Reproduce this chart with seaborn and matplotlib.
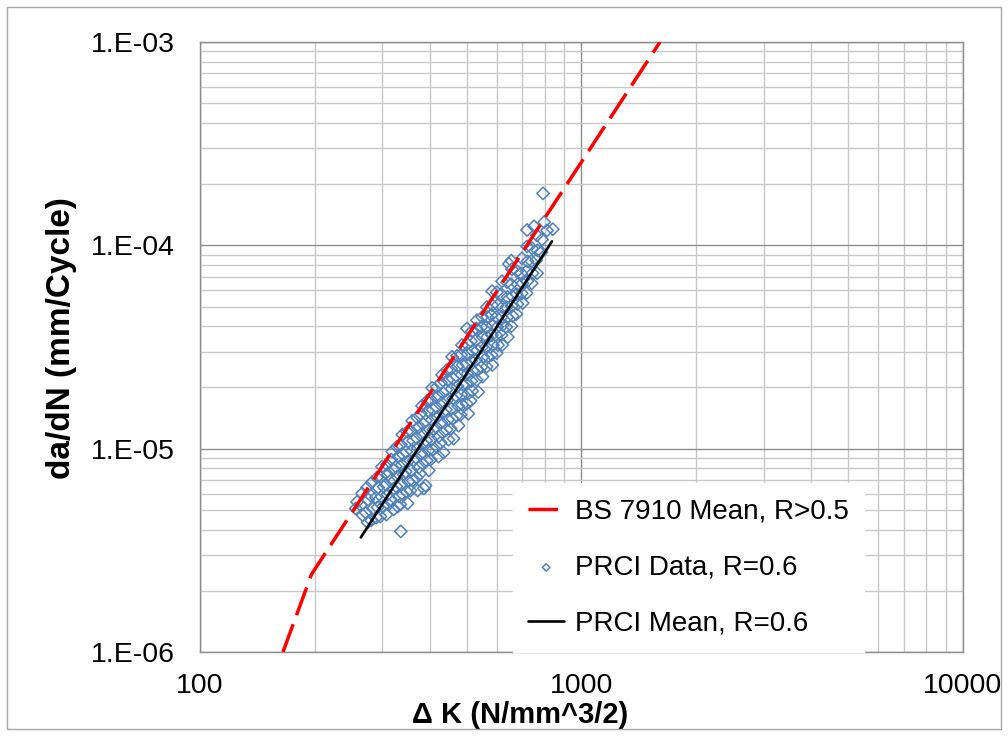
import matplotlib
matplotlib.use("Agg")
import matplotlib.pyplot as plt
import matplotlib.ticker as mticker
from matplotlib.patches import Rectangle
import numpy as np
import pandas as pd
import seaborn as sns

sns.set_theme(style="white")
plt.rcParams['font.family'] = ['Liberation Sans', 'DejaVu Sans']
plt.rcParams['text.color'] = 'black'
plt.rcParams['axes.labelcolor'] = 'black'

# BS 7910 mean curve (two-stage), read at its end points and knee
bs_dk = [165, 196, 1606]
bs_dadn = [1.0e-6, 2.41e-6, 1.0e-3]

# PRCI mean line, R=0.6
mean_dk = [264, 837]
mean_dadn = [3.66e-6, 1.047e-4]

prci_dk = [
    258, 256,
    266, 264, 267,
    274, 276, 272, 275,
    282, 280, 284, 281,
    291, 293, 289, 292, 290,
    300, 298, 303, 299, 302, 297,
    309, 311, 307, 310, 312, 308,
    319, 317, 321, 318, 320, 316, 322,
    328, 331, 326, 329, 327, 332, 330,
    339, 336, 341, 338, 342, 337, 340, 335,
    349, 351, 347, 350, 346, 352, 348, 350,
    360, 357, 362, 359, 363, 358, 361, 356,
    371, 373, 369, 372, 368, 374, 370, 372,
    382, 379, 384, 381, 385, 380, 383, 378, 386,
    394, 396, 391, 395, 392, 397, 393, 398, 390,
    406, 403, 408, 405, 409, 404, 407, 402,
    418, 420, 416, 419, 415, 421, 417, 422,
    431, 428, 433, 430, 434, 429, 432, 427, 435,
    444, 446, 442, 445, 441, 447, 443, 448,
    458, 455, 460, 457, 461, 456, 459, 454, 462,
    472, 474, 470, 473, 469, 475, 471, 476,
    486, 483, 488, 485, 489, 484, 487, 482,
    501, 503, 499, 502, 498, 504, 500, 505,
    516, 513, 518, 515, 519, 514, 517, 512,
    532, 534, 530, 533, 529, 535, 531, 536,
    549, 546, 551, 548, 552, 547, 550,
    565, 567, 563, 566, 562, 568, 564,
    583, 580, 585, 582, 586, 581, 584,
    600, 603, 598, 601, 597, 604, 599,
    619, 616, 621, 618, 622, 617, 620,
    638, 640, 636, 639, 635, 641,
    657, 654, 659, 656, 660, 655,
    678, 680, 676, 679, 675,
    698, 695, 700, 697, 701,
    720, 722, 717, 721, 718,
    742, 739, 744, 740,
    764, 767, 761, 765,
    788, 785,
    812,
    336, 720, 751, 793, 798, 841, 655, 645, 583, 501, 530,
]
prci_dadn = [
    5.47e-6, 5.08e-6,
    6.02e-6, 5.26e-6, 4.70e-6,
    6.44e-6, 5.62e-6, 4.85e-6, 4.34e-6,
    6.82e-6, 5.89e-6, 5.08e-6, 4.44e-6,
    7.21e-6, 6.44e-6, 5.75e-6, 5.14e-6, 4.59e-6,
    8.15e-6, 7.28e-6, 6.50e-6, 5.81e-6, 5.19e-6, 4.64e-6,
    8.34e-6, 7.45e-6, 6.66e-6, 5.95e-6, 5.31e-6, 4.74e-6,
    9.67e-6, 8.84e-6, 7.89e-6, 7.05e-6, 6.30e-6, 5.63e-6, 5.03e-6,
    1.022e-5, 9.14e-6, 8.16e-6, 7.29e-6, 6.51e-6, 5.82e-6, 5.20e-6,
    1.172e-5, 1.047e-5, 9.35e-6, 8.35e-6, 7.46e-6, 6.66e-6, 5.95e-6, 5.32e-6,
    1.211e-5, 1.082e-5, 9.66e-6, 8.63e-6, 7.71e-6, 6.90e-6, 6.15e-6, 5.38e-6,
    1.371e-5, 1.224e-5, 1.094e-5, 9.77e-6, 8.73e-6, 7.80e-6, 6.97e-6, 6.22e-6,
    1.419e-5, 1.267e-5, 1.133e-5, 1.011e-5, 9.04e-6, 8.07e-6, 7.21e-6, 6.23e-6,
    1.624e-5, 1.484e-5, 1.326e-5, 1.184e-5, 1.058e-5, 9.45e-6, 8.44e-6, 7.54e-6, 6.37e-6,
    1.718e-5, 1.536e-5, 1.371e-5, 1.225e-5, 1.094e-5, 9.79e-6, 8.73e-6, 7.81e-6, 6.59e-6,
    1.990e-5, 1.737e-5, 1.552e-5, 1.386e-5, 1.239e-5, 1.107e-5, 9.88e-6, 8.83e-6,
    2.013e-5, 1.798e-5, 1.606e-5, 1.434e-5, 1.282e-5, 1.144e-5, 1.022e-5, 9.14e-6,
    2.306e-5, 2.107e-5, 1.882e-5, 1.681e-5, 1.502e-5, 1.341e-5, 1.199e-5, 1.071e-5, 9.57e-6,
    2.438e-5, 2.179e-5, 1.945e-5, 1.738e-5, 1.553e-5, 1.388e-5, 1.239e-5, 1.107e-5,
    2.83e-5, 2.47e-5, 2.21e-5, 1.969e-5, 1.760e-5, 1.573e-5, 1.404e-5, 1.255e-5, 1.121e-5,
    2.86e-5, 2.55e-5, 2.28e-5, 2.03e-5, 1.818e-5, 1.624e-5, 1.450e-5, 1.297e-5,
    3.23e-5, 2.89e-5, 2.58e-5, 2.31e-5, 2.06e-5, 1.840e-5, 1.644e-5, 1.468e-5,
    3.27e-5, 2.92e-5, 2.61e-5, 2.33e-5, 2.08e-5, 1.861e-5, 1.663e-5, 1.486e-5,
    3.78e-5, 3.38e-5, 3.02e-5, 2.70e-5, 2.41e-5, 2.15e-5, 1.923e-5, 1.719e-5,
    4.28e-5, 3.83e-5, 3.42e-5, 3.05e-5, 2.73e-5, 2.44e-5, 2.18e-5, 1.900e-5,
    4.44e-5, 3.97e-5, 3.54e-5, 3.16e-5, 2.83e-5, 2.52e-5, 2.26e-5,
    4.97e-5, 4.44e-5, 3.97e-5, 3.54e-5, 3.16e-5, 2.83e-5, 2.53e-5,
    5.08e-5, 4.54e-5, 4.05e-5, 3.62e-5, 3.23e-5, 2.89e-5, 2.58e-5,
    5.88e-5, 5.08e-5, 4.43e-5, 3.96e-5, 3.62e-5, 3.23e-5, 2.95e-5,
    6.66e-5, 5.75e-5, 4.97e-5, 4.44e-5, 4.06e-5, 3.62e-5, 3.24e-5,
    6.59e-5, 5.56e-5, 4.97e-5, 4.44e-5, 3.97e-5, 3.54e-5,
    7.63e-5, 6.44e-5, 5.62e-5, 5.03e-5, 4.49e-5, 4.01e-5,
    7.45e-5, 6.43e-5, 5.75e-5, 5.14e-5, 4.59e-5,
    8.63e-5, 7.28e-5, 6.51e-5, 5.81e-5, 5.20e-5,
    9.88e-5, 8.35e-5, 7.45e-5, 6.66e-5, 5.82e-5,
    9.67e-5, 8.35e-5, 7.29e-5, 6.51e-5,
    1.12e-4, 9.45e-5, 8.44e-5, 7.29e-5,
    1.069e-4, 9.24e-5,
    1.184e-4,
    3.92e-6, 1.19e-4, 1.24e-4, 1.80e-4, 1.30e-4, 1.20e-4, 8.4e-5, 8.1e-5, 5.95e-5, 3.9e-5, 3.9e-5,
]

x_ticks = [100, 1000, 10000]
x_tick_labels = ["100", "1000", "10000"]
y_ticks = [1e-6, 1e-5, 1e-4, 1e-3]
y_tick_labels = ["1.E-06", "1.E-05", "1.E-04", "1.E-03"]

bs = pd.DataFrame({"dK": bs_dk, "dadN": bs_dadn})
mean = pd.DataFrame({"dK": mean_dk, "dadN": mean_dadn})
prci = pd.DataFrame({"dK": prci_dk, "dadN": prci_dadn})

fig = plt.figure(figsize=(10.08, 7.36), dpi=100)
ax = fig.add_axes([200 / 1008, 1 - 652 / 736, 763 / 1008, 610 / 736])

# light outer chart border
fig.patches.append(Rectangle((7 / 1008, 7 / 736), 994 / 1008, 722 / 736,
                             transform=fig.transFigure, fill=False,
                             edgecolor="#A6A6A6", linewidth=1.0))

sns.lineplot(data=bs, x="dK", y="dadN", ax=ax, color="#FF0000", linewidth=2.5,
             linestyle=(0, (8.5, 2.8)), sort=False, label="BS 7910 Mean, R>0.5",
             zorder=3)
sns.scatterplot(data=prci, x="dK", y="dadN", ax=ax, marker="D", s=40,
                facecolor="none", edgecolor="#4F81BD", linewidth=1.1,
                label="PRCI Data, R=0.6", zorder=2)
sns.lineplot(data=mean, x="dK", y="dadN", ax=ax, color="black", linewidth=1.9,
             sort=False, label="PRCI Mean, R=0.6", zorder=4)

ax.set_xscale("log")
ax.set_yscale("log")
ax.set_xlim(100, 10000)
ax.set_ylim(1e-6, 1e-3)

ax.xaxis.set_major_locator(mticker.FixedLocator(x_ticks))
ax.xaxis.set_major_formatter(mticker.FixedFormatter(x_tick_labels))
ax.yaxis.set_major_locator(mticker.FixedLocator(y_ticks))
ax.yaxis.set_major_formatter(mticker.FixedFormatter(y_tick_labels))
ax.xaxis.set_minor_locator(mticker.LogLocator(base=10, subs=np.arange(2, 10)))
ax.yaxis.set_minor_locator(mticker.LogLocator(base=10, subs=np.arange(2, 10)))
ax.xaxis.set_minor_formatter(mticker.NullFormatter())
ax.yaxis.set_minor_formatter(mticker.NullFormatter())

ax.grid(which="major", color="#8C8C8C", linewidth=1.0)
ax.grid(which="minor", color="#C8C8C8", linewidth=1.0)
ax.set_axisbelow(True)

ax.tick_params(axis="both", which="both", length=0, labelsize=20.5,
               colors="black", labelcolor="black")
ax.tick_params(axis="x", pad=15)
ax.tick_params(axis="y", pad=18)
for sp in ax.spines.values():
    sp.set_color("#8C8C8C")
    sp.set_linewidth(1.0)

ax.set_xlabel("\u0394 K (N/mm^3/2)", fontsize=21, fontweight="bold", color="black")
ax.set_ylabel("da/dN (mm/Cycle)", fontsize=24, fontweight="bold", color="black")
ax.xaxis.set_label_coords(0.419, -0.103)
ax.xaxis.label.set_va("center")
ax.yaxis.set_label_coords(-0.181, 0.514)
ax.yaxis.label.set_va("center")

leg = ax.legend(loc="lower left", bbox_to_anchor=(0.41, 0.0), borderaxespad=0,
                fontsize=20, frameon=True, fancybox=False, framealpha=1,
                facecolor="white", edgecolor="white", handlelength=1.3,
                handletextpad=0.4, labelspacing=1.08, borderpad=0.55,
                markerscale=0.6, labelcolor="black")

fig.savefig("out.png", dpi=100, facecolor="white")
